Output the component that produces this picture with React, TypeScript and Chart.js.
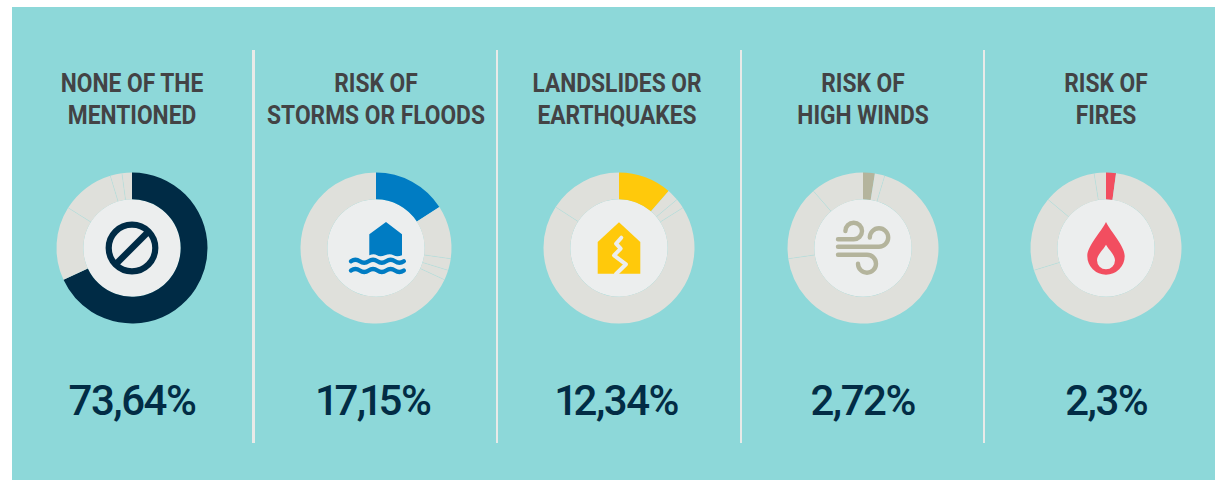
import React, { useEffect, useRef } from "react";
import { Chart, registerables } from "chart.js";

Chart.register(...registerables);

const shares = [73.64, 17.15, 12.34, 2.72, 2.3];
const valueLabels = ["73,64%", "17,15%", "12,34%", "2,72%", "2,3%"];
const titleLines = [
  ["NONE OF THE", "MENTIONED"],
  ["RISK OF", "STORMS OR FLOODS"],
  ["LANDSLIDES OR", "EARTHQUAKES"],
  ["RISK OF", "HIGH WINDS"],
  ["RISK OF", "FIRES"],
];
const accents = ["#002B45", "#007CC3", "#FFC90B", "#B4B49C", "#F24E60"];
const centersX = [132, 375.5, 618.8, 862.7, 1106.2];
const titleCentersX = [132, 375.5, 616.5, 862.7, 1106];
const dividersX = [253.5, 497, 741, 984];

const BG = "#8DD8D9";
const REST = "#DFE0DB";
const HOLE = "#ECEEEE";
const CENTER_Y = 247.8;
const SIZE = 170;

function Icon({ index }: { index: number }) {
  const c = accents[index];
  let body: React.ReactNode = null;
  if (index === 0) {
    body = (
      <g fill="none" stroke={c} strokeWidth={6.2}>
        <circle r={23.3} />
        <path d="M-17 17L17 -17" strokeWidth={6.6} />
      </g>
    );
  } else if (index === 1) {
    const wave = (y: number) =>
      `M-25 ${y}q4.4 -3 8.8 0t8.8 0t8.8 0t8.8 0t8.8 0t8.8 0`;
    body = (
      <g>
        <path d="M10 -26L26 -13.7V7.2Q21 9.2 17.5 7.2T9 7.2T1 7.2T-6.7 7.2V-13.7Z" fill={c} />
        <g fill="none" stroke={c} strokeWidth={4.4} strokeLinecap="round">
          <path d={wave(13.2)} />
          <path d={wave(22.5)} />
        </g>
      </g>
    );
  } else if (index === 2) {
    body = (
      <g>
        <path d="M0 -25.7L21.3 -6V25.7H-21.3V-6Z" fill={c} />
        <path
          d="M2.3 -10.3L-3 -4.3L1.7 0.7L-5 7.3L7 16.3L-3 26"
          fill="none"
          stroke={HOLE}
          strokeWidth={4}
          strokeLinecap="round"
          strokeLinejoin="round"
        />
      </g>
    );
  } else if (index === 3) {
    body = (
      <g fill="none" stroke={c} strokeWidth={4.4} strokeLinecap="round">
        <path d="M-25 -8.7H-9.3A8.3 8.3 0 1 0 -17.6 -17" />
        <path d="M-25 -1.3H16A9.2 9.2 0 1 0 6.8 -10.5" />
        <path d="M-25 6.7H4A9 9 0 1 1 -5 15.7" />
      </g>
    );
  } else {
    body = (
      <g>
        <path d="M0 -26C-5 -16 -18.7 -2 -18.7 8A18.7 18.7 0 0 0 18.7 8C18.7 -2 5 -16 0 -26Z" fill={c} />
        <path d="M0 -3.3C-2.5 1.5 -9 6.5 -9 12.3A9 9 0 0 0 9 12.3C9 6.5 2.5 1.5 0 -3.3Z" fill={HOLE} />
      </g>
    );
  }
  return (
    <svg
      width={SIZE}
      height={SIZE}
      viewBox={`${-SIZE / 2} ${-SIZE / 2} ${SIZE} ${SIZE}`}
      style={{
        position: "absolute",
        left: centersX[index] - SIZE / 2,
        top: CENTER_Y - SIZE / 2,
        pointerEvents: "none",
      }}
    >
      {body}
    </svg>
  );
}

function Donut({ index }: { index: number }) {
  const ref = useRef<HTMLCanvasElement>(null);
  useEffect(() => {
    const rotated = [...shares.slice(index), ...shares.slice(0, index)];
    const ringPlugin = {
      id: "ring",
      beforeDatasetsDraw(chart: any) {
        const arc = chart.getDatasetMeta(0).data[0];
        const { ctx } = chart;
        ctx.save();
        ctx.fillStyle = HOLE;
        ctx.beginPath();
        ctx.arc(arc.x, arc.y, arc.innerRadius, 0, Math.PI * 2);
        ctx.fill();
        ctx.restore();
      },
      afterDatasetsDraw(chart: any) {
        const arcs = chart.getDatasetMeta(0).data;
        const { ctx } = chart;
        ctx.save();
        ctx.strokeStyle = "rgba(141,216,217,0.4)";
        ctx.lineWidth = 0.6;
        arcs.slice(2).forEach((a: any) => {
          const cos = Math.cos(a.startAngle);
          const sin = Math.sin(a.startAngle);
          ctx.beginPath();
          ctx.moveTo(a.x + cos * a.innerRadius, a.y + sin * a.innerRadius);
          ctx.lineTo(a.x + cos * a.outerRadius, a.y + sin * a.outerRadius);
          ctx.stroke();
        });
        ctx.restore();
      },
    };
    const chart = new Chart(ref.current!, {
      type: "doughnut",
      data: {
        labels: rotated.map((v) => String(v)),
        datasets: [
          {
            data: rotated,
            backgroundColor: rotated.map((_, i) => (i === 0 ? accents[index] : REST)),
            borderWidth: 0,
          },
        ],
      },
      options: {
        responsive: false,
        animation: false,
        radius: 75.5,
        cutout: "64.5%",
        layout: { padding: 0 },
        plugins: { legend: { display: false }, tooltip: { enabled: false } },
        events: [],
      } as any,
      plugins: [ringPlugin],
    });
    return () => chart.destroy();
  }, [index]);
  return (
    <canvas
      ref={ref}
      width={SIZE}
      height={SIZE}
      style={{
        position: "absolute",
        left: centersX[index] - SIZE / 2,
        top: CENTER_Y - SIZE / 2,
        width: SIZE,
        height: SIZE,
      }}
    />
  );
}

function ValueText({ text }: { text: string }) {
  return (
    <>
      {text.split("").map((ch, i) => (
        <span key={i} style={ch === "1" ? { marginLeft: -5.5, marginRight: -3 } : undefined}>
          {ch}
        </span>
      ))}
    </>
  );
}

export default function App() {
  useEffect(() => {
    document.body.style.margin = "0";
    document.body.style.background = "#fff";
  }, []);
  return (
    <div style={{ position: "fixed", left: 0, top: 0, width: 1215, height: 480, overflow: "hidden", background: "#fff" }}>
      <div style={{ position: "absolute", left: 12, top: 7, width: 1203, height: 473, background: BG }} />
      {dividersX.map((x) => (
        <div
          key={x}
          style={{ position: "absolute", left: x - 1.25, top: 50, width: 2.5, height: 393, background: "#E8EAE8" }}
        />
      ))}
      {centersX.map((cx, i) => (
        <React.Fragment key={cx}>
          <div
            style={{
              position: "absolute",
              left: titleCentersX[i] - 122,
              width: 244,
              top: 67.5,
              textAlign: "center",
              fontFamily: "Roboto, sans-serif",
              fontWeight: 700,
              fontSize: 25,
              lineHeight: "32px",
              color: "#434345",
              whiteSpace: "nowrap",
              transform: "scaleX(0.91)",
            }}
          >
            {titleLines[i].map((line) => (
              <div key={line}>{line}</div>
            ))}
          </div>
          <Donut index={i} />
          <Icon index={i} />
          <div
            style={{
              position: "absolute",
              left: cx - 122,
              width: 244,
              top: 376,
              textAlign: "center",
              fontFamily: "Roboto, sans-serif",
              fontWeight: 500,
              fontSize: 42,
              lineHeight: "50px",
              letterSpacing: -1.5,
              color: "#022C45",
              whiteSpace: "nowrap",
            }}
          >
            <ValueText text={valueLabels[i]} />
          </div>
        </React.Fragment>
      ))}
    </div>
  );
}
